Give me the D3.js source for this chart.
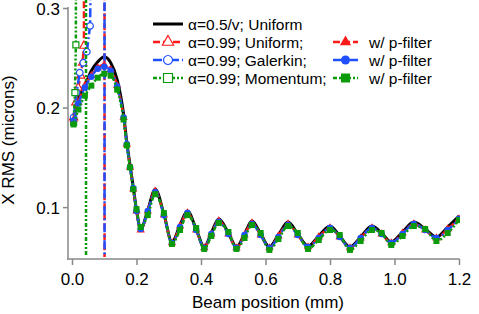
<!DOCTYPE html>
<html>
<head>
<meta charset="utf-8">
<script src="https://cdn.jsdelivr.net/npm/d3@7"></script>
<style>
  body { margin: 0; background: #fff; }
  text { font-family: "Liberation Sans", Arial, sans-serif; fill: #000; }
</style>
</head>
<body>
<div id="chart"></div>
<script>
// beam positions (mm) shared by the smooth runs
var xKnots = [0.005, 0.02, 0.04, 0.06, 0.08, 0.10, 0.12, 0.14, 0.16, 0.17, 0.18, 0.19, 0.20, 0.213,
  0.235, 0.258, 0.285, 0.31, 0.335, 0.358, 0.385, 0.41, 0.432, 0.455, 0.485, 0.51,
  0.535, 0.558, 0.585, 0.612, 0.64, 0.67, 0.70, 0.732, 0.765, 0.80, 0.83, 0.862,
  0.895, 0.93, 0.96, 0.99, 1.025, 1.06, 1.095, 1.13, 1.165, 1.2];

var yUniformHalf = [0.190, 0.208, 0.222, 0.237, 0.246, 0.251, 0.245, 0.228, 0.193, 0.165, 0.142, 0.120, 0.097, 0.078,
  0.097, 0.118, 0.093, 0.065, 0.082, 0.096, 0.078, 0.060, 0.074, 0.088, 0.074, 0.060,
  0.073, 0.086, 0.073, 0.060, 0.072, 0.085, 0.073, 0.061, 0.071, 0.081, 0.071, 0.060,
  0.070, 0.081, 0.074, 0.065, 0.075, 0.085, 0.078, 0.070, 0.080, 0.091];

var yUniformFilt = [0.188, 0.205, 0.222, 0.232, 0.240, 0.243, 0.238, 0.222, 0.190, 0.163, 0.140, 0.118, 0.096, 0.077,
  0.096, 0.116, 0.092, 0.064, 0.081, 0.094, 0.077, 0.059, 0.073, 0.086, 0.073, 0.059,
  0.072, 0.084, 0.072, 0.059, 0.071, 0.083, 0.072, 0.060, 0.070, 0.079, 0.070, 0.059,
  0.069, 0.079, 0.073, 0.064, 0.074, 0.083, 0.077, 0.069, 0.078, 0.088];

var yGalerkinFilt = [0.187, 0.204, 0.220, 0.231, 0.239, 0.241, 0.237, 0.221, 0.190, 0.163, 0.140, 0.119, 0.096, 0.078,
  0.096, 0.115, 0.092, 0.064, 0.080, 0.094, 0.077, 0.059, 0.073, 0.085, 0.073, 0.059,
  0.072, 0.083, 0.072, 0.059, 0.070, 0.082, 0.072, 0.060, 0.069, 0.079, 0.070, 0.059,
  0.069, 0.079, 0.073, 0.064, 0.073, 0.083, 0.077, 0.069, 0.077, 0.088];

var yMomentumFilt = [0.183, 0.198, 0.212, 0.222, 0.230, 0.234, 0.232, 0.218, 0.188, 0.162, 0.140, 0.118, 0.098, 0.080,
  0.092, 0.113, 0.094, 0.063, 0.077, 0.092, 0.079, 0.058, 0.071, 0.084, 0.075, 0.058,
  0.069, 0.082, 0.074, 0.057, 0.068, 0.081, 0.074, 0.058, 0.067, 0.077, 0.072, 0.057,
  0.066, 0.077, 0.074, 0.062, 0.071, 0.081, 0.078, 0.066, 0.074, 0.087];

// unfiltered alpha=0.99 runs blow up early (values off scale top, then off scale bottom)
var xUniformRaw = [0.005, 0.012, 0.019, 0.027, 0.033, 0.037, 0.040, 0.100, 0.102];
var yUniformRaw = [0.190, 0.205, 0.220, 0.232, 0.245, 0.262, 2.0, 2.0, -2.0];
var xGalerkinRaw = [0.005, 0.014, 0.024, 0.035, 0.046, 0.056, 0.061, 0.065, 0.100, 0.102];
var yGalerkinRaw = [0.190, 0.215, 0.235, 0.245, 0.256, 0.282, 0.40, 2.0, 2.0, -2.0];
var xMomentumRaw = [0.005, 0.009, 0.012, 0.014, 0.043, 0.044];
var yMomentumRaw = [0.185, 0.215, 0.263, 2.0, 2.0, -2.0];

var xTicks = [0.0, 0.2, 0.4, 0.6, 0.8, 1.0, 1.2];
var yTicks = [0.1, 0.2, 0.3];

var W = 479, H = 314;
var x = d3.scaleLinear().domain([-0.0124, 1.2]).range([68, 459]);
var y = d3.scaleLinear().domain([0.0489, 0.3]).range([258, 8]);

var red = "#ff1a1a", blue = "#1f4fff", green = "#0a9a0a";

var series = [
  { xs: xKnots, ys: yUniformHalf, color: "#000", dash: null, width: 3, sym: null, fill: false, smooth: true },
  { xs: xUniformRaw, ys: yUniformRaw, color: red, dash: "7,3", width: 2.5, sym: d3.symbolTriangle, fill: false },
  { xs: xGalerkinRaw, ys: yGalerkinRaw, color: blue, dash: "9,3,2,3", width: 2.5, sym: d3.symbolCircle, fill: false },
  { xs: xMomentumRaw, ys: yMomentumRaw, color: green, dash: "4,2,2,2,2,2", width: 2.5, sym: d3.symbolSquare, fill: false },
  { xs: xKnots, ys: yUniformFilt, color: red, dash: "7,3", width: 2.5, sym: d3.symbolTriangle, fill: true, smooth: true },
  { xs: xKnots, ys: yGalerkinFilt, color: blue, dash: "9,3,2,3", width: 2.5, sym: d3.symbolCircle, fill: true, smooth: true },
  { xs: xKnots, ys: yMomentumFilt, color: green, dash: "4,2,2,2,2,2", width: 2.5, sym: d3.symbolSquare, fill: true, smooth: true }
];

var symSize = new Map([[d3.symbolTriangle, 30], [d3.symbolCircle, 34], [d3.symbolSquare, 36]]);
var legSize = new Map([[d3.symbolTriangle, 55], [d3.symbolCircle, 64], [d3.symbolSquare, 81]]);

var svg = d3.select("#chart").append("svg")
  .attr("width", W)
  .attr("height", H);

svg.append("clipPath").attr("id", "plotclip")
  .append("rect").attr("x", 68).attr("y", 0).attr("width", 392).attr("height", 257);

// axes
var xAxis = svg.append("g")
  .attr("transform", "translate(0,259)")
  .call(d3.axisBottom(x).tickValues(xTicks).tickFormat(d3.format(".1f")).tickSize(6).tickSizeOuter(0));
xAxis.select(".domain").attr("d", "M67,0H459.5");
xAxis.selectAll("line").attr("stroke", "#888").attr("stroke-width", 1.5);
xAxis.selectAll("path").attr("stroke", "#888").attr("stroke-width", 1.5);
xAxis.selectAll("text").attr("y", 14).style("font-size", "17px").attr("font-family", null);

var yAxis = svg.append("g")
  .attr("transform", "translate(68,0)")
  .call(d3.axisLeft(y).tickValues(yTicks).tickFormat(d3.format(".1f")).tickSize(5).tickSizeOuter(0));
yAxis.select(".domain").attr("d", "M0,7H0V259.5");
yAxis.selectAll("line").attr("stroke", "#888").attr("stroke-width", 1.5);
yAxis.selectAll("path").attr("stroke", "#888").attr("stroke-width", 1.5);
yAxis.selectAll("text").attr("x", -8).attr("dy", "0.36em").style("font-size", "17px").attr("font-family", null);

svg.append("text")
  .attr("x", 268).attr("y", 308)
  .attr("text-anchor", "middle")
  .style("font-size", "17px")
  .text("Beam position (mm)");

svg.append("text")
  .attr("transform", "translate(14,140)rotate(-90)")
  .attr("text-anchor", "middle")
  .style("font-size", "17px")
  .text("X RMS (microns)");

// curves
var plot = svg.append("g").attr("clip-path", "url(#plotclip)");

series.forEach(function(s) {
  var pts = s.xs.map(function(v, i) { return [v, s.ys[i]]; });
  var line = d3.line()
    .x(function(d) { return x(d[0]); })
    .y(function(d) { return y(d[1]); })
    .curve(s.smooth ? d3.curveMonotoneX : d3.curveLinear);
  plot.append("path")
    .datum(pts)
    .attr("d", line)
    .attr("fill", "none")
    .attr("stroke", s.color)
    .attr("stroke-width", s.width)
    .attr("stroke-dasharray", s.dash);
  if (s.sym) {
    plot.selectAll(null)
      .data(pts.filter(function(d) { return d[1] < 0.3 && d[1] > 0.04; }))
      .enter()
      .append("path")
        .attr("transform", function(d) { return "translate(" + x(d[0]) + "," + y(d[1]) + ")"; })
        .attr("d", d3.symbol().type(s.sym).size(symSize.get(s.sym)))
        .attr("fill", s.fill ? s.color : "#fff")
        .attr("stroke", s.color)
        .attr("stroke-width", s.fill ? 0 : 1.2);
  }
});

// legend
var legRows = [
  { label: "α=0.5/v; Uniform", main: series[0], alt: null },
  { label: "α=0.99; Uniform;", main: series[1], alt: series[4] },
  { label: "α=0.99; Galerkin;", main: series[2], alt: series[5] },
  { label: "α=0.99; Momentum;", main: series[3], alt: series[6] }
];

function legendSample(g, s, x0, x1, yy) {
  g.append("line")
    .attr("x1", x0).attr("x2", x1).attr("y1", yy).attr("y2", yy)
    .attr("stroke", s.color)
    .attr("stroke-width", s.width)
    .attr("stroke-dasharray", s.dash);
  if (s.sym) {
    g.append("path")
      .attr("transform", "translate(" + ((x0 + x1) / 2) + "," + yy + ")")
      .attr("d", d3.symbol().type(s.sym).size(legSize.get(s.sym)))
      .attr("fill", s.fill ? s.color : "#fff")
      .attr("stroke", s.color)
      .attr("stroke-width", s.fill ? 0 : 1.2);
  }
}

var leg = svg.append("g");
legRows.forEach(function(r, i) {
  var yy = 24 + i * 18;
  legendSample(leg, r.main, 153, 183, yy);
  leg.append("text")
    .attr("x", 188).attr("y", yy).attr("dy", "0.36em")
    .style("font-size", "15.5px")
    .text(r.label);
  if (r.alt) {
    legendSample(leg, r.alt, 333, 358, yy);
    leg.append("text")
      .attr("x", 369).attr("y", yy).attr("dy", "0.36em")
      .style("font-size", "15.5px")
      .text("w/ p-filter");
  }
});
</script>
</body>
</html>
